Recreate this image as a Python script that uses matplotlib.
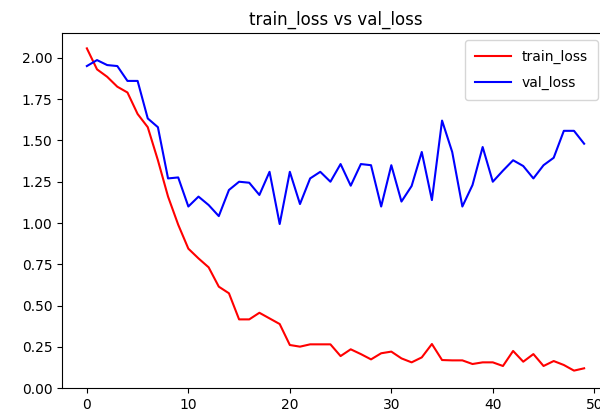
import matplotlib
matplotlib.use("Agg")
import matplotlib.pyplot as plt

epochs = list(range(50))
train_loss = [2.057, 1.93, 1.885, 1.825, 1.79, 1.66, 1.58, 1.38, 1.16, 0.99,
              0.845, 0.786, 0.732, 0.615, 0.575, 0.417, 0.417, 0.457, 0.423, 0.389,
              0.262, 0.252, 0.266, 0.266, 0.266, 0.195, 0.236, 0.207, 0.175, 0.212,
              0.222, 0.181, 0.157, 0.187, 0.268, 0.171, 0.169, 0.169, 0.147, 0.157,
              0.157, 0.135, 0.226, 0.161, 0.207, 0.135, 0.165, 0.141, 0.107, 0.121]
val_loss = [1.95, 1.986, 1.956, 1.95, 1.86, 1.86, 1.633, 1.58, 1.27, 1.276,
            1.10, 1.16, 1.109, 1.042, 1.20, 1.25, 1.244, 1.17, 1.31, 0.994,
            1.31, 1.115, 1.27, 1.31, 1.25, 1.357, 1.226, 1.357, 1.35, 1.10,
            1.35, 1.13, 1.224, 1.43, 1.139, 1.62, 1.43, 1.10, 1.23, 1.46,
            1.25, 1.317, 1.38, 1.345, 1.27, 1.35, 1.395, 1.558, 1.558, 1.48]

fig = plt.figure(figsize=(6.0, 4.18), dpi=100)
ax = fig.add_axes([62/600, (418-388.3)/418, (609-62)/600, (388.3-33)/418])
ax.plot(epochs, train_loss, color="red", label="train_loss")
ax.plot(epochs, val_loss, color="blue", label="val_loss")
ax.set_ylim(0, 2.15)
ax.set_title("train_loss vs val_loss")
ax.legend(loc="upper right", handlelength=2.6, labelspacing=0.9,
          borderpad=0.7, bbox_to_anchor=(0.992, 1.0))
fig.savefig("out.png", dpi=100)
